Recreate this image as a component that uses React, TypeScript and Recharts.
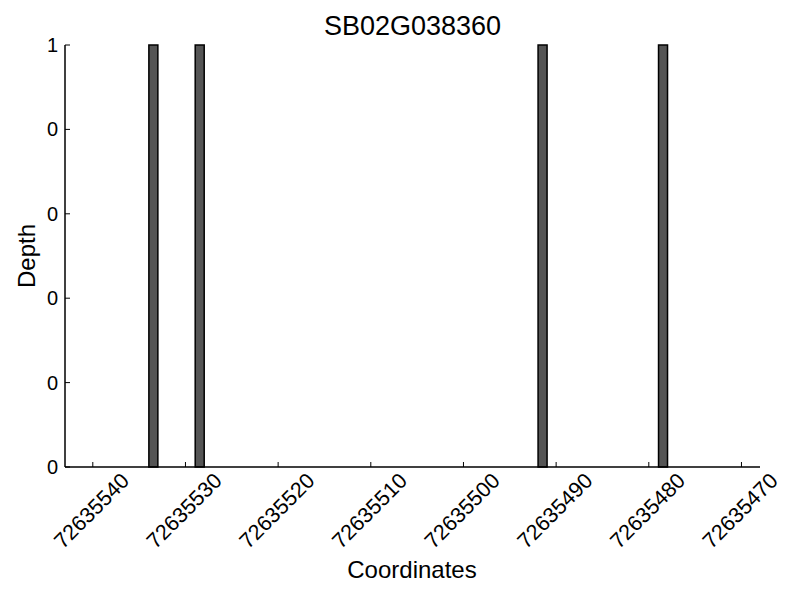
import { BarChart, Bar, XAxis, YAxis } from 'recharts';

// bar centres (genomic coordinate) and read depth at each
const coords = [72635533.5, 72635528.5, 72635491.5, 72635478.5];
const depths = [1, 1, 1, 1];

const xTicks = [72635540, 72635530, 72635520, 72635510, 72635500, 72635490, 72635480, 72635470];
const yTicks = [0, 0.2, 0.4, 0.6, 0.8, 1];

const data = coords.map((c, i) => ({ pos: c, depth: depths[i] }));

const FONT = '"Liberation Sans", Arial, Helvetica, sans-serif';

function XTick({ x, y, payload }: any) {
  const cy = y + 44;
  return (
    <g>
      <line x1={x} y1={y} x2={x} y2={y - 5} stroke="#000" strokeWidth={1} />
      <text
        x={x - 1}
        y={cy}
        textAnchor="middle"
        dominantBaseline="central"
        transform={`rotate(-45 ${x - 1} ${cy})`}
        fontSize={21.5}
        fontFamily={FONT}
        fill="#000"
      >
        {payload.value}
      </text>
    </g>
  );
}

function YTick({ x, y, payload }: any) {
  return (
    <g>
      <line x1={x} y1={y} x2={x + 5} y2={y} stroke="#000" strokeWidth={1} />
      <text x={x - 7} y={y} textAnchor="end" dominantBaseline="central" fontSize={20} fontFamily={FONT} fill="#000">
        {Math.floor(payload.value)}
      </text>
    </g>
  );
}

export default function App() {
  return (
    <div style={{ position: 'absolute', left: 0, top: 0, width: 800, height: 600, background: '#fff' }}>
      <div
        style={{
          position: 'absolute',
          left: 65,
          width: 695,
          top: 10,
          textAlign: 'center',
          fontFamily: FONT,
          fontSize: 27,
          lineHeight: '32px',
          color: '#000',
        }}
      >
        SB02G038360
      </div>
      <BarChart width={800} height={600} data={data} margin={{ top: 45, right: 40, left: 0, bottom: 0 }}>
        <XAxis
          dataKey="pos"
          type="number"
          domain={[72635468, 72635543]}
          allowDataOverflow
          reversed
          ticks={xTicks}
          interval={0}
          height={133}
          tickSize={0}
          tickMargin={0}
          tickLine={false}
          tick={<XTick />}
          axisLine={{ stroke: '#000', strokeWidth: 1.5 }}
          label={{
            content: () => (
              <text x={412} y={578} textAnchor="middle" fontSize={24} fontFamily={FONT} fill="#000">
                Coordinates
              </text>
            ),
          }}
        />
        <YAxis
          type="number"
          domain={[0, 1]}
          ticks={yTicks}
          interval={0}
          width={65}
          tickSize={0}
          tickMargin={0}
          tickLine={false}
          tick={<YTick />}
          axisLine={{ stroke: '#000', strokeWidth: 1.5 }}
          label={{
            content: () => (
              <text
                x={26}
                y={256}
                textAnchor="middle"
                dominantBaseline="central"
                transform="rotate(-90 26 256)"
                fontSize={24}
                fontFamily={FONT}
                fill="#000"
              >
                Depth
              </text>
            ),
          }}
        />
        <Bar dataKey="depth" fill="#555555" stroke="#000" strokeWidth={1.5} barSize={9} isAnimationActive={false} />
      </BarChart>
    </div>
  );
}
